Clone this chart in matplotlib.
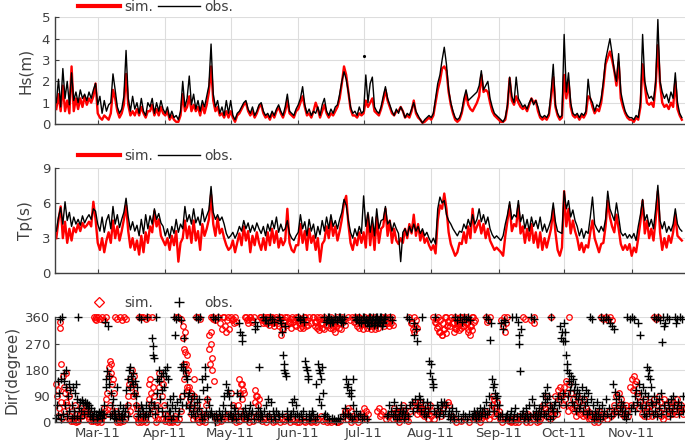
import matplotlib
matplotlib.use('Agg')
import matplotlib.pyplot as plt
import matplotlib.dates as mdates
from matplotlib.lines import Line2D
import pandas as pd

start = pd.Timestamp('2011-02-10')   # first day of all series, one value per day

# significant wave height (m), Feb 10 .. Nov 24
hs_obs = [
    1.0, 2.1, 0.8, 2.6, 1.2, 2.0, 0.9, 2.4, 1.1, 1.5, 1.0, 1.6, 1.2, 1.4, 1.1, 1.5, 1.2, 1.6, 1.9,
    0.9, 1.3, 0.5, 1.1, 0.6, 0.9, 1.0, 2.35, 1.6, 0.8, 0.5, 0.7, 1.3, 3.45, 1.2, 0.6, 1.3, 0.7, 1.0, 0.5,
    1.2, 0.6, 0.4, 1.0, 0.8, 1.2, 0.5, 1.0, 0.6, 1.1, 0.7,
    0.5, 0.8, 0.3, 0.6, 0.3, 0.4, 0.2, 0.6, 2.0, 0.8, 1.2, 2.25, 0.9, 1.4, 0.7, 1.1, 0.6, 1.1, 0.8, 1.3,
    1.8, 3.75, 1.4, 0.8, 1.1, 0.5, 0.8, 0.4, 1.1, 0.5,
    1.1, 0.4, 0.2, 0.5, 0.6, 0.8, 1.0, 1.1, 0.7, 0.5, 0.8, 0.4, 0.6, 0.9, 1.0, 0.6, 0.4, 0.5, 0.3, 0.6,
    0.4, 0.7, 0.9, 0.6, 0.4, 0.8, 1.4, 0.6, 0.5, 0.4, 0.7,
    0.9, 1.2, 1.75, 0.9, 0.5, 0.7, 0.4, 0.6, 0.5, 0.8, 0.4, 0.9, 1.2, 0.6, 0.4, 0.7, 0.5, 0.8, 0.9, 1.4,
    2.0, 2.45, 2.1, 1.5, 0.8, 0.5, 0.6, 0.4, 0.8, 0.5,
    0.6, 2.3, 1.0, 1.9, 2.2, 0.8, 0.6, 0.5, 0.8, 1.3, 1.75, 1.2, 0.9, 0.6, 0.4, 0.7, 0.5, 0.8, 0.6, 0.3,
    0.5, 0.4, 0.7, 1.0, 0.6, 0.4, 0.2, 0.05, 0.2, 0.3, 0.4,
    0.3, 0.5, 1.2, 1.9, 2.3, 3.0, 3.6, 2.8, 1.6, 1.0, 0.6, 0.3, 0.2, 0.3, 0.6, 1.2, 1.6, 1.1, 1.2, 1.3,
    1.4, 1.5, 1.8, 2.5, 1.6, 1.8, 2.0, 1.2, 0.8, 0.5, 0.4,
    0.3, 0.2, 0.1, 0.3, 0.9, 2.2, 1.3, 1.0, 2.2, 1.2, 1.0, 0.8, 0.9, 0.7, 1.0, 1.2, 0.9, 1.1, 0.8, 0.4,
    0.3, 0.4, 0.3, 0.5, 1.5, 2.8, 0.9, 0.5, 0.3, 0.4,
    4.2, 1.5, 2.4, 1.0, 0.5, 0.4, 0.5, 0.3, 0.5, 0.4, 0.6, 2.1, 1.2, 1.0, 0.6, 0.9, 0.8, 1.2, 2.0, 3.0,
    3.5, 4.0, 3.3, 2.5, 2.0, 3.3, 1.5, 1.0, 0.6, 0.4, 0.3,
    0.3, 0.2, 0.4, 0.3, 1.0, 4.2, 2.0, 1.5, 1.2, 1.3, 1.1, 2.0, 4.9, 2.0, 1.5, 1.2, 1.4, 1.0, 1.5, 1.2,
    2.4, 1.0, 0.5, 0.3,
]
hs_sim = [
    0.7, 1.4, 0.6, 1.8, 0.6, 1.1, 0.5, 2.7, 0.6, 1.2, 0.7, 1.2, 0.8, 1.3, 0.9, 1.2, 1.0, 1.3, 1.9,
    0.5, 0.3, 0.2, 0.4, 0.3, 0.2, 0.5, 1.6, 1.2, 0.6, 0.3, 0.5, 0.9, 2.35, 0.9, 0.4, 0.6, 0.4, 0.7, 0.4,
    0.8, 0.5, 0.3, 0.6, 0.6, 0.9, 0.4, 0.7, 0.4, 0.8, 0.5,
    0.4, 0.6, 0.2, 0.4, 0.2, 0.1, 0.1, 0.4, 1.4, 0.6, 0.8, 1.3, 0.6, 0.9, 0.6, 0.8, 0.4, 0.9, 0.5, 0.9,
    1.5, 2.7, 1.1, 0.6, 0.8, 0.4, 0.5, 0.3, 0.6, 0.3,
    0.6, 0.3, 0.1, 0.4, 0.5, 0.7, 0.9, 1.0, 0.6, 0.4, 0.6, 0.3, 0.5, 0.8, 0.9, 0.5, 0.3, 0.4, 0.2, 0.5,
    0.3, 0.6, 0.8, 0.5, 0.3, 0.6, 1.1, 0.5, 0.4, 0.3, 0.6,
    0.7, 1.0, 1.3, 0.8, 0.4, 0.5, 0.3, 0.6, 1.0, 0.7, 0.3, 0.6, 0.9, 0.5, 0.3, 0.5, 0.4, 0.6, 0.8, 1.2,
    1.9, 2.7, 2.3, 1.5, 0.7, 0.4, 0.4, 0.3, 0.5, 0.4,
    0.5, 1.1, 0.8, 1.0, 1.2, 0.6, 0.5, 0.4, 0.7, 1.1, 1.6, 1.1, 0.8, 0.5, 0.4, 0.6, 0.6, 0.8, 0.6, 0.3,
    0.4, 0.3, 0.6, 1.1, 0.5, 0.3, 0.2, 0.05, 0.1, 0.2, 0.3,
    0.2, 0.4, 1.0, 1.6, 2.0, 2.6, 2.7, 2.5, 1.5, 0.9, 0.5, 0.2, 0.1, 0.2, 0.5, 1.0, 1.4, 0.9, 0.7, 0.6,
    0.8, 1.0, 1.3, 2.3, 1.5, 1.6, 1.5, 1.0, 0.6, 0.4, 0.3,
    0.2, 0.1, 0.1, 0.2, 0.8, 2.15, 1.1, 0.9, 1.3, 1.0, 0.8, 0.7, 0.8, 0.6, 0.9, 1.2, 1.0, 1.1, 0.6, 0.3,
    0.2, 0.3, 0.2, 0.4, 1.2, 2.2, 0.8, 0.4, 0.2, 0.3,
    2.3, 1.2, 2.0, 0.8, 0.4, 0.3, 0.4, 0.2, 0.4, 0.3, 0.5, 1.3, 1.2, 0.8, 0.5, 0.7, 0.6, 1.0, 1.8, 2.8,
    3.1, 3.4, 3.0, 2.5, 1.8, 2.9, 1.2, 0.8, 0.5, 0.3, 0.2,
    0.2, 0.1, 0.3, 0.2, 0.8, 2.8, 1.8, 1.0, 0.9, 1.0, 0.8, 1.8, 3.7, 1.9, 1.0, 0.8, 0.9, 0.7, 1.0, 0.8,
    2.0, 0.7, 0.4, 0.2,
]
hs_obs_dot_time = '2011-07-01 06:00'   # isolated obs record
hs_obs_dot = 3.2

# peak period (s)
tp_obs = [
    3.6, 4.8, 5.6, 4.2, 6.1, 4.5, 5.2, 4.0, 4.8, 4.2, 4.6, 4.1, 4.9, 4.3, 4.7, 5.0, 4.6, 5.5, 5.3,
    4.2, 3.6, 4.8, 3.5, 4.5, 5.0, 3.8, 5.7, 4.2, 5.0, 3.9, 4.6, 5.2, 6.4, 4.8, 3.7, 4.4, 3.6, 4.1, 3.2,
    4.6, 3.4, 5.0, 3.8, 4.9, 4.2, 5.5, 4.6, 5.1, 4.3, 4.0,
    3.2, 3.8, 3.0, 4.0, 3.4, 4.6, 3.5, 4.2, 3.8, 5.7, 4.4, 5.0, 4.2, 5.5, 4.3, 4.8, 4.1, 5.5, 4.4, 4.9,
    5.4, 7.4, 5.2, 4.6, 5.0, 4.5, 4.8, 4.2, 3.4, 3.0,
    3.2, 3.5, 3.0, 3.4, 4.0, 3.6, 4.5, 3.8, 4.3, 3.5, 4.1, 3.6, 4.3, 3.8, 3.4, 4.0, 3.2, 4.2, 3.6, 4.5,
    3.8, 4.8, 3.5, 4.2, 3.6, 3.8, 4.5, 3.4, 3.0, 2.8, 3.2,
    3.5, 5.0, 3.8, 4.4, 3.2, 4.6, 3.6, 4.2, 3.0, 4.0, 3.3, 4.5, 3.6, 4.8, 3.8, 5.0, 4.0, 4.5, 3.8, 4.6,
    5.2, 6.3, 5.8, 4.5, 3.5, 3.0, 3.8, 3.2, 4.0, 3.4,
    6.6, 4.0, 5.2, 3.5, 4.8, 3.2, 5.5, 3.8, 4.5, 4.6, 5.7, 4.2, 4.5, 3.6, 4.3, 3.8, 3.4, 1.0, 3.5, 3.8,
    3.2, 4.0, 3.5, 4.2, 3.6, 4.0, 3.4, 3.8, 3.2, 3.5, 3.0,
    2.6, 3.0, 2.5, 5.5, 6.5, 6.0, 6.2, 5.0, 4.5, 4.2, 3.8, 3.5, 3.2, 3.6, 3.5, 4.2, 3.8, 4.6, 4.0, 5.0,
    4.2, 4.6, 5.5, 4.4, 5.0, 4.2, 4.8, 3.8, 3.3, 3.0, 3.2,
    3.0, 2.8, 3.2, 4.2, 5.0, 6.1, 4.6, 5.0, 4.8, 6.2, 4.4, 5.0, 3.8, 4.6, 3.6, 4.8, 4.0, 4.5, 3.8, 4.8,
    3.6, 4.2, 3.5, 4.0, 4.6, 6.0, 4.4, 3.6, 3.5, 3.4,
    7.0, 5.5, 6.2, 4.8, 5.4, 4.5, 4.0, 3.2, 3.8, 3.0, 3.6, 3.4, 4.8, 6.5, 4.2, 3.8, 3.5, 4.0, 3.6, 4.6,
    7.0, 5.5, 5.0, 4.5, 6.0, 4.8, 3.5, 3.2, 3.4, 3.0, 3.3,
    3.0, 3.4, 2.8, 4.0, 5.0, 6.3, 4.5, 5.0, 4.0, 4.6, 3.8, 5.5, 7.5, 4.5, 3.8, 4.4, 3.5, 4.0, 3.6, 4.2,
    5.5, 4.2, 3.8, 3.6,
]
tp_sim = [
    3.0, 4.5, 5.7, 3.0, 4.4, 2.6, 3.8, 2.8, 3.9, 3.5, 4.2, 3.6, 4.3, 3.9, 4.1, 4.4, 4.0, 6.1, 4.6,
    2.6, 2.0, 3.0, 1.8, 2.8, 3.5, 2.6, 4.5, 3.0, 4.0, 2.8, 3.6, 4.6, 5.8, 3.6, 2.2, 3.0, 2.0, 2.8, 1.6,
    3.2, 1.8, 3.5, 2.6, 4.0, 3.5, 5.3, 4.0, 4.6, 3.2, 2.8,
    2.4, 3.0, 2.0, 3.2, 2.4, 3.6, 1.0, 2.6, 3.0, 4.5, 3.0, 4.0, 2.6, 4.5, 2.8, 3.6, 2.0, 4.2, 3.2, 3.8,
    4.6, 6.7, 4.2, 3.2, 4.7, 3.4, 3.8, 3.0, 2.4, 2.0,
    2.2, 2.8, 1.8, 2.6, 3.4, 2.4, 4.0, 2.8, 3.6, 1.8, 3.2, 2.4, 3.5, 2.6, 2.0, 3.0, 2.0, 3.5, 2.4, 3.8,
    2.6, 3.6, 2.2, 3.0, 2.4, 2.8, 5.5, 2.6, 2.0, 1.8, 2.4,
    2.4, 4.2, 2.6, 3.6, 2.0, 3.8, 2.6, 3.2, 2.0, 3.0, 1.0, 2.5, 2.8, 4.0, 3.0, 4.5, 3.2, 4.0, 2.8, 3.6,
    4.6, 6.0, 6.6, 4.2, 2.6, 2.0, 3.0, 2.4, 3.5, 2.6,
    3.5, 2.2, 5.0, 2.4, 4.2, 2.0, 4.8, 2.6, 3.8, 4.0, 5.5, 3.2, 4.5, 2.6, 3.8, 2.8, 2.5, 3.0, 2.6, 3.8,
    3.0, 4.2, 3.4, 5.0, 3.2, 4.2, 2.8, 3.6, 2.6, 3.0, 2.4,
    2.0, 2.4, 1.7, 4.5, 5.8, 5.5, 6.8, 5.5, 3.5, 2.5, 2.0, 1.5, 1.8, 2.6, 2.5, 3.5, 2.6, 4.0, 3.0, 5.5,
    3.5, 4.0, 4.5, 3.4, 4.2, 3.0, 3.8, 2.8, 2.4, 2.0, 2.2,
    2.0, 1.8, 1.5, 3.2, 4.5, 5.8, 3.6, 4.2, 4.0, 5.8, 3.4, 4.0, 2.6, 3.8, 2.8, 4.2, 2.6, 3.5, 2.2, 3.5,
    2.0, 3.0, 2.2, 3.0, 3.8, 5.5, 3.5, 2.0, 1.5, 2.2,
    7.0, 4.0, 5.5, 3.4, 4.5, 3.6, 3.0, 2.0, 2.6, 1.8, 2.4, 2.2, 3.5, 4.5, 3.0, 2.4, 1.8, 2.5, 2.6, 4.0,
    6.2, 4.8, 4.0, 3.5, 5.0, 3.8, 2.5, 2.0, 2.4, 2.0, 2.5,
    1.5, 2.2, 1.8, 3.0, 4.4, 6.2, 3.4, 4.5, 3.0, 3.8, 2.8, 4.6, 7.0, 3.5, 2.0, 3.0, 2.2, 3.2, 2.6, 3.5,
    5.0, 3.2, 3.0, 2.8,
]

# wave direction (degree), several readings per day
dir_obs = [
    # Feb
    [15, 60, 140], [25, 100, 355], [10, 150, 360], [30, 170, 140], [60, 120, 180], [20, 90, 130],
    [40, 110], [15, 60, 120], [20, 40, 100], [130, 80, 20], [360, 50, 15], [70, 40], [75, 65, 30],
    [70, 60], [65, 50, 40], [60, 30, 20], [50, 20, 10], [20, 40], [30, 10],
    # Mar
    [20, 35], [25, 40], [15, 30, 60], [30, 345, 120], [150, 175, 330], [130, 160, 20], [100, 60, 30],
    [80, 40, 15], [30, 10], [120, 40, 20], [60, 20], [30, 10, 50], [20, 40], [110, 60, 20],
    [150, 180, 120], [190, 160, 140], [170, 130, 100], [140, 90, 60], [120, 40, 20], [360, 30, 60],
    [355, 50, 20], [40, 20], [30, 60, 360], [20, 50], [40, 70], [290, 260, 230, 220, 60],
    [60, 30, 360], [100, 150, 50], [140, 180, 80], [160, 110, 40], [170, 120, 20],
    # Apr
    [180, 160, 60], [190, 150, 40], [80, 40, 10], [60, 90, 20], [360, 300, 50], [355, 70, 20],
    [360, 40, 80], [350, 190, 60], [200, 180, 288, 100], [180, 160, 60], [150, 90, 50], [100, 60, 30],
    [80, 40], [60, 90, 20], [360, 70, 40], [355, 50, 80], [360, 30, 10], [150, 110, 20],
    [190, 160, 40], [120, 80, 20], [60, 30], [40, 20], [360, 20, 0], [355, 30, 10], [360, 40],
    [20, 10], [30, 60], [90, 40], [130, 100, 20], [110, 90, 30],
    # May
    [30, 60, 10], [20, 50], [40, 10], [100, 30], [340, 310, 90, 20], [300, 280, 40], [20, 50],
    [30, 10], [20, 40], [60, 30], [40, 10], [345, 320, 30], [330, 50, 20], [190, 40, 10], [30, 20],
    [360, 40, 350], [350, 60, 20], [340, 80, 30], [360, 70, 10], [355, 40, 345], [20, 10], [40, 30],
    [360, 20, 350], [340, 310, 30], [230, 200, 180, 330], [170, 160, 20], [40, 10], [20, 30],
    [70, 40], [80, 20], [60, 30],
    # Jun
    [360, 20, 350], [355, 30, 10], [360, 40, 345], [210, 190, 20], [180, 160, 150, 10], [30, 10],
    [20, 40], [30, 10], [130, 20], [200, 180, 80], [170, 150, 60], [190, 100, 20], [360, 30, 345],
    [350, 20, 360], [360, 10, 340], [355, 15, 345], [345, 10, 360], [360, 5, 350], [350, 15, 360],
    [360, 10, 345], [355, 30, 340], [360, 50, 20], [150, 120, 30], [130, 100, 20], [110, 90, 10],
    [150, 60, 20], [360, 40, 350], [355, 20, 345], [360, 30, 340], [350, 10, 360],
    # Jul
    [360, 20, 345], [355, 10, 340], [345, 330, 360], [360, 340, 350], [350, 360, 335],
    [340, 355, 360], [360, 335, 345], [350, 345, 360], [360, 330, 340], [345, 355, 360], [360, 20],
    [30, 60], [360, 40], [350, 20], [70, 30], [50, 10], [20, 40], [60, 30], [40, 10], [30, 50],
    [360, 20], [355, 60], [70, 40], [340, 300, 80], [320, 280, 50], [60, 90], [80, 40],
    [360, 70, 30], [50, 20], [70, 40], [210, 170, 60],
    # Aug
    [200, 150, 120], [130, 40, 360], [30, 60], [50, 20], [40, 70], [60, 30], [70, 40], [60, 20],
    [40, 10], [30, 50], [20, 10], [360, 40], [350, 20], [360, 10], [345, 30], [360, 20], [355, 10],
    [360, 30], [350, 20], [20, 40], [30, 10], [40, 20], [30, 50], [20, 40], [50, 30], [360, 70, 30],
    [355, 90, 40], [282, 340, 60], [150, 120, 40], [130, 100, 82], [90, 60, 20],
    # Sep
    [60, 20], [340, 30], [320, 350, 10], [345, 20], [30, 10], [20, 40], [360, 10], [30, 50], [360, 20],
    [345, 300, 270, 176, 20], [320, 30], [40, 10], [20, 50], [30, 10], [60, 20], [360, 80, 30],
    [355, 60, 20], [40, 10], [30, 50], [20, 40], [60, 90, 30], [100, 70, 20], [120, 80, 40],
    [90, 60, 10], [360, 50, 20], [40, 60], [70, 40], [90, 60], [330, 290, 80], [310, 280, 100],
    # Oct
    [340, 310, 280, 60], [230, 200, 180, 90], [170, 140, 110], [160, 130, 70], [150, 110, 60],
    [130, 90, 40], [110, 80, 50], [100, 60], [120, 80, 40], [90, 60], [110, 70, 30], [100, 40],
    [360, 80, 30], [355, 60, 10], [40, 20], [70, 30], [50, 10], [360, 60, 20], [350, 40],
    [360, 80, 30], [355, 50], [340, 20], [330, 130, 40], [320, 105, 60], [80, 30], [90, 50], [70, 40],
    [60, 20], [40, 10], [360, 30], [355, 50],
    # Nov
    [360, 60], [355, 90, 40], [110, 70], [340, 130, 60], [300, 100, 50], [120, 80, 30], [100, 60, 20],
    [190, 160, 90, 40], [180, 150, 70], [120, 60, 30], [360, 90, 40], [355, 70, 20], [360, 50, 80],
    [350, 100, 30], [276, 360, 60], [330, 340, 40], [360, 70], [355, 50, 20], [80, 40], [90, 60],
    [360, 340, 50], [355, 70, 30], [360, 60], [355, 90, 40],
]
dir_sim = [
    # Feb
    [130, 90, 20], [110, 50, 345, 325], [200, 70, 15], [160, 120, 40], [100, 170, 70], [60, 110, 10],
    [90, 20, 5], [40, 5], [10, 60], [0, 5, 30], [5, 20], [30, 50], [20, 40], [30, 60], [40, 20],
    [10, 30], [5, 15], [5, 360, 355], [360, 350, 0],
    # Mar
    [360, 5, 15], [355, 0, 10], [360, 20, 50], [350, 40, 80], [360, 100, 30], [190, 160, 210, 60],
    [200, 170, 130, 40], [150, 100, 20], [360, 40, 0], [355, 10, 5], [360, 0, 20], [350, 5], [360, 10],
    [355, 30, 60], [90, 130, 40], [150, 120, 180], [130, 90, 160], [100, 60, 20], [50, 10, 0],
    [360, 10, 0], [360, 20, 5], [360, 10], [355, 0, 30], [360, 80, 130], [150, 100, 60],
    [360, 120, 40], [90, 20, 0], [60, 10], [120, 170, 30], [150, 90, 10], [130, 60, 5],
    # Apr
    [30, 10], [20, 0], [10, 5], [0, 15], [10, 20], [360, 0], [360, 10], [355, 40, 90],
    [330, 290, 250, 200, 150], [310, 240, 200, 170, 120], [230, 180, 110, 60], [120, 80, 30],
    [100, 50, 10], [150, 90, 20], [360, 60, 10], [360, 40, 0], [355, 20, 5], [10, 30], [0, 20, 60],
    [80, 30], [300, 250, 200, 360], [310, 270, 220, 180, 355], [360, 140, 20], [350, 10, 0],
    [360, 15], [340, 5], [320, 360, 10], [360, 330, 20], [310, 350, 30], [360, 320, 10],
    # May
    [360, 100, 20, 350], [355, 60, 10, 340], [360, 0, 345], [20, 60, 5], [150, 100, 40, 130],
    [130, 80, 20, 110], [100, 30, 10, 360], [360, 10, 350, 340], [355, 0, 360], [360, 20, 345],
    [350, 5, 360], [110, 70, 20, 90], [90, 60, 30], [80, 10, 360], [360, 5, 350, 340],
    [355, 10, 360, 345], [340, 0, 350, 360], [360, 20, 345, 335], [350, 10, 360], [360, 0, 340, 330],
    [345, 5, 355], [360, 15, 340], [330, 350, 0, 360], [300, 360, 10, 320], [320, 5, 345, 360],
    [350, 20, 335], [360, 10, 345], [340, 0, 355, 325], [360, 10, 345], [355, 5, 335, 360],
    [330, 0, 350],
    # Jun
    [360, 0, 340, 325], [340, 10, 355, 330], [325, 350, 5, 360], [360, 0, 345, 330], [350, 10, 335],
    [360, 5, 340], [0, 15, 360], [360, 5, 345, 330], [345, 0, 325, 360], [330, 10, 350, 315],
    [360, 20, 340, 325], [340, 5, 355, 320], [360, 10, 335], [330, 0, 350], [355, 5, 340, 325],
    [360, 0, 345, 330], [320, 5, 340, 355], [310, 350, 330, 0], [360, 0, 340, 325],
    [340, 5, 355, 320], [360, 20, 345], [355, 40, 335], [30, 10, 360], [50, 20, 350], [40, 0, 360],
    [20, 10, 345], [360, 10, 340, 330], [350, 0, 360, 325], [360, 20, 345, 335], [340, 30, 355, 320],
    # Jul
    [50, 20, 360, 340], [40, 10, 340, 325], [30, 350, 330, 360], [360, 320, 340], [330, 355, 345],
    [360, 320, 340, 335], [40, 340, 325, 355], [50, 20, 345], [30, 360, 340], [40, 330, 355],
    [360, 10, 345], [340, 20, 360, 330], [355, 30, 340], [360, 10, 335], [50, 20, 35], [30, 10],
    [20, 0, 40], [40, 10], [60, 20, 40], [30, 10], [20, 5], [360, 40, 340], [340, 60, 320],
    [310, 360, 70, 330], [350, 30, 325], [60, 40, 50], [70, 50, 30], [50, 20], [60, 30, 40],
    [40, 10], [30, 60],
    # Aug
    [20, 40], [360, 10, 345], [355, 340, 30, 325], [330, 360, 40, 310], [310, 350, 20, 300],
    [300, 340, 50, 320], [320, 360, 60, 305], [360, 330, 70, 345], [350, 60, 330], [360, 20, 340],
    [340, 310, 10, 325], [360, 320, 0, 345], [355, 330, 340, 315], [360, 340, 5, 325],
    [350, 360, 330], [330, 355, 10, 340], [360, 340, 320], [310, 350, 0, 330], [300, 330, 360, 315],
    [360, 10, 345], [350, 20], [10, 30], [20, 0], [10, 30], [20, 40], [360, 20, 345], [350, 10],
    [360, 30], [60, 90, 20], [80, 50, 40], [70, 30],
    # Sep
    [40, 10], [350, 0], [330, 360, 10], [310, 340], [360, 5], [10, 0], [5], [15, 0], [10], [0, 20],
    [10], [360, 20], [355, 0], [10, 30], [20, 0], [350, 10], [360, 340, 20], [30, 0], [20, 5],
    [10, 40], [30, 60], [50, 20], [90, 40], [60, 10], [360, 30], [20, 40], [90, 30], [110, 80],
    [120, 90], [100, 60],
    # Oct
    [120, 80], [140, 100, 40], [360, 130, 60], [100, 50], [80, 40], [60, 20], [90, 40], [70, 30],
    [60, 20], [80, 30], [50, 20], [40, 10], [30, 10], [20, 0], [10, 30], [20, 0], [40, 10], [360, 30],
    [355, 20], [360, 10], [350, 40], [360, 20], [350, 30], [60, 40], [90, 50], [100, 60], [80, 30],
    [50, 20], [30, 60], [40, 20], [120, 60],
    # Nov
    [150, 110], [160, 130, 60], [140, 100], [90, 50], [70, 30], [60, 20], [80, 40], [50, 20],
    [40, 70], [60, 20], [360, 80, 30], [355, 60], [360, 90, 40], [70, 20], [50, 10], [80, 30],
    [60, 20], [40, 70], [50, 30], [70, 40], [60, 30], [80, 50], [40, 60], [50, 30],
]


def daily(vals):
    return pd.date_range(start, periods=len(vals), freq='D')


def spread(per_day):
    # spread the readings of one day over that day
    t, v = [], []
    for i, vals in enumerate(per_day):
        for j, val in enumerate(vals):
            t.append(start + pd.Timedelta(hours=24 * (i + j / len(vals))))
            v.append(val)
    return t, v


grey = '#404040'
fig = plt.figure(figsize=(6.85, 4.46), dpi=100)
ax1 = fig.add_axes([0.0803, 0.722, 0.9197, 0.239])
ax2 = fig.add_axes([0.0803, 0.387, 0.9197, 0.237])
ax3 = fig.add_axes([0.0803, 0.0531, 0.9197, 0.2354])

for ax in (ax1, ax2, ax3):
    ax.set_xlim(pd.Timestamp('2011-02-09 09:36'), pd.Timestamp('2011-11-25 10:48'))
    ax.xaxis.set_major_locator(mdates.MonthLocator())
    ax.xaxis.set_major_formatter(mdates.DateFormatter('%b-%y'))
    ax.grid(True, color='#dddddd', lw=0.8)
    ax.set_axisbelow(True)
    for s in ('top', 'right'):
        ax.spines[s].set_visible(False)
    for s in ('left', 'bottom'):
        ax.spines[s].set_color(grey)
        ax.spines[s].set_linewidth(1.0)
    ax.tick_params(direction='in', length=3, labelsize=9.5, colors=grey)

leg_kw = dict(ncol=2, frameon=False, loc='center left', borderpad=0, borderaxespad=0,
              handlelength=3.0, handletextpad=0.3, columnspacing=0.4, fontsize=10, labelcolor=grey)

# Hs
ax1.plot(daily(hs_sim), hs_sim, color='red', lw=1.7)
ax1.plot(daily(hs_obs), hs_obs, color='black', lw=1.0)
ax1.plot(pd.Timestamp(hs_obs_dot_time), hs_obs_dot, '.', color='black', ms=2.5)
ax1.set_ylim(0, 5)
ax1.set_yticks([0, 1, 2, 3, 4, 5])
ax1.set_ylabel('Hs(m)', fontsize=11, color=grey, labelpad=6)
ax1.tick_params(labelbottom=False)
ax1.legend([Line2D([], [], color='red', lw=3), Line2D([], [], color='black', lw=1)],
           ['sim.', 'obs.'], bbox_to_anchor=(0.0366, 1.10), **leg_kw)

# Tp
ax2.plot(daily(tp_sim), tp_sim, color='red', lw=1.7)
ax2.plot(daily(tp_obs), tp_obs, color='black', lw=1.0)
ax2.set_ylim(0, 9)
ax2.set_yticks([0, 3, 6, 9])
ax2.set_ylabel('Tp(s)', fontsize=11, color=grey, labelpad=6)
ax2.tick_params(labelbottom=False)
ax2.legend([Line2D([], [], color='red', lw=3), Line2D([], [], color='black', lw=1)],
           ['sim.', 'obs.'], bbox_to_anchor=(0.0366, 1.11), **leg_kw)

# Dir
ts, vs = spread(dir_sim)
to, vo = spread(dir_obs)
ax3.plot(ts, vs, 'o', mfc='none', mec='red', ms=4.0, mew=0.9, clip_on=False)
ax3.plot(to, vo, '+', color='black', ms=5.5, mew=1.0, clip_on=False)
ax3.set_ylim(0, 360)
ax3.set_yticks([0, 90, 180, 270, 360])
ax3.set_ylabel('Dir(degree)', fontsize=11, color=grey)
ax3.legend([Line2D([], [], ls='none', marker='D', mfc='none', mec='red', ms=5, mew=0.9),
            Line2D([], [], ls='none', marker='+', color='black', ms=7, mew=1.0)],
           ['sim.', 'obs.'], bbox_to_anchor=(0.0366, 1.135), **leg_kw)

fig.savefig('out.png', dpi=100)
